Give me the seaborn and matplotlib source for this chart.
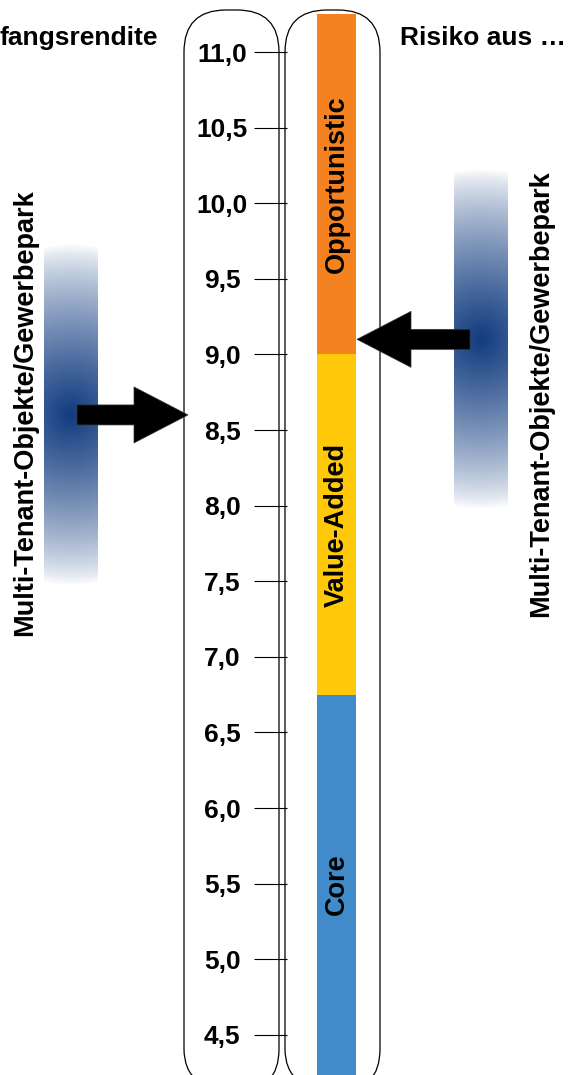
import numpy as np
import pandas as pd
import matplotlib.pyplot as plt
from matplotlib.patches import FancyBboxPatch
from matplotlib.colors import LinearSegmentedColormap
import seaborn as sns

# Risikoklassen im Balken (Anfangsrendite in %)
klassen = ["Core", "Value-Added", "Opportunistic"]
klasse_von = [4.25, 6.75, 9.0]
klasse_bis = [6.75, 9.0, 11.25]
klasse_farbe = ["#428BCA", "#FFC90A", "#F58220"]

# Skala
skala = [4.5, 5.0, 5.5, 6.0, 6.5, 7.0, 7.5, 8.0, 8.5, 9.0, 9.5, 10.0, 10.5, 11.0]
skala_labels = ["4,5", "5,0", "5,5", "6,0", "6,5", "7,0", "7,5",
                "8,0", "8,5", "9,0", "9,5", "10,0", "10,5", "11,0"]

# Einordnung Objektart
objekt = "Multi-Tenant-Objekte/Gewerbepark"
rendite_links = 8.6
risiko_rechts = 9.1

titel_links = "fangsrendite"
titel_rechts = "Risiko aus …"

W, H = 570, 1075
YLO, YHI = 4.235, 11.344
PX_PRO_EINHEIT = H / (YHI - YLO)
PT = 0.72  # 1 px in pt bei 100 dpi

sns.set_theme(style="white")
plt.rcParams["font.family"] = ["Liberation Sans", "DejaVu Sans"]
plt.rcParams["text.color"] = "black"

fig = plt.figure(figsize=(W / 100, H / 100), dpi=100)

# Hintergrund in Pixelkoordinaten: Röhren + Überschriften
bg = fig.add_axes([0, 0, 1, 1])
bg.set_xlim(0, W)
bg.set_ylim(H, 0)
bg.axis("off")
for x0 in (184, 285):
    bg.add_patch(FancyBboxPatch((x0, 10), 95, 1081,
                                boxstyle="round,pad=0,rounding_size=42",
                                fc="none", ec="black", lw=0.9))
bg.text(0, 45, titel_links, ha="left", va="baseline", fontsize=19, fontweight="bold")
bg.text(400, 45, titel_rechts, ha="left", va="baseline", fontsize=19, fontweight="bold")
bg.text(25, 413, objekt, rotation=90, ha="center", va="center", fontsize=19.5, fontweight="bold")
bg.text(541, 394, objekt, rotation=90, ha="center", va="center", fontsize=19.5, fontweight="bold")

# Werteachse
ax = fig.add_axes([0, 0, 1, 1])
ax.patch.set_alpha(0)
for s in ["top", "right", "bottom", "left"]:
    ax.spines[s].set_visible(False)
ax.spines["left"].set_position(("data", 287))
ax.set_xticks([])
ax.set_yticks(skala, skala_labels)
ax.tick_params(axis="y", direction="out", left=True, length=33 * PT, width=0.8,
               pad=23, labelsize=19, color="black", labelcolor="black")
for t in ax.get_yticklabels():
    t.set_fontweight("bold")
    t.set_horizontalalignment("center")

glow_cmap = LinearSegmentedColormap.from_list("glow", ["white", "#123C80"])


def glow(xc, yv, halbb=27, halbh=170):
    yy, xx = np.mgrid[-halbh:halbh:340j, -halbb:halbb:54j]
    z = np.clip(1 - np.hypot(xx, yy) / halbh, 0, 1) ** 0.75
    dv = halbh / PX_PRO_EINHEIT
    ax.imshow(z, cmap=glow_cmap, vmin=0, vmax=1, aspect="auto", interpolation="bilinear",
              extent=(xc - halbb, xc + halbb, yv - dv, yv + dv), zorder=1)


glow(71, rendite_links)
glow(481, risiko_rechts)

pfeil = dict(facecolor="black", edgecolor="#333333", lw=0.5,
             width=20 * PT, headwidth=56 * PT, headlength=54 * PT, shrink=0)
ax.annotate("", xy=(188, rendite_links), xytext=(77, rendite_links), arrowprops=pfeil, zorder=3)
ax.annotate("", xy=(357, risiko_rechts), xytext=(470, risiko_rechts), arrowprops=pfeil, zorder=3)
ax.set_xlim(0, W)
ax.set_ylim(YLO, YHI)

# Balken mit den Risikoklassen
axb = fig.add_axes([317 / W, 0, 39 / W, 1])
df = pd.DataFrame({"klasse": klassen, "von": klasse_von, "bis": klasse_bis, "farbe": klasse_farbe})
for _, row in df.sort_values("bis", ascending=False).iterrows():
    sns.barplot(x=["Strategie"], y=[row.bis], color=row.farbe, saturation=1, width=1,
                linewidth=0, errorbar=None, ax=axb)
    axb.text(0, (row.von + row.bis) / 2, row.klasse, rotation=90, ha="center", va="center",
             fontsize=19.5, fontweight="bold", color="black")
axb.set_xlim(-0.5, 0.5)
axb.set_ylim(YLO, YHI)
axb.axis("off")

fig.savefig("out.png", dpi=100)
